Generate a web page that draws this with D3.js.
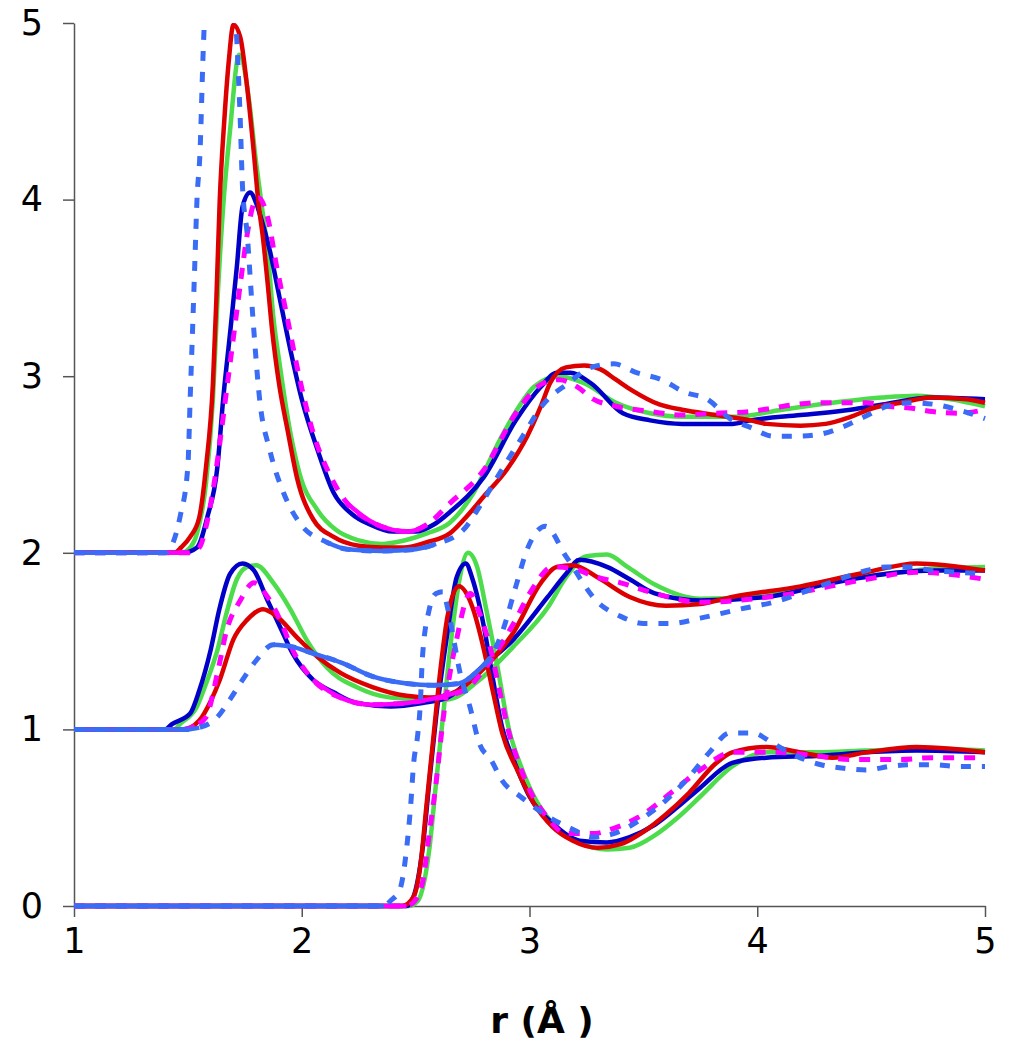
<!DOCTYPE html>
<html>
<head>
<meta charset="utf-8">
<title>g(r)</title>
<style>
  body { margin: 0; background: #fff; }
  svg { display: block; }
</style>
</head>
<body>
<svg width="1011" height="1050"></svg>
<script src="https://d3js.org/d3.v7.min.js"></script>
<script>

// [r, value] pairs, offsets (2 / 1 / 0) already in
const topRed = [[1.00,2.00],[1.44,2.00],[1.47,2.03],[1.51,2.09],[1.55,2.20],[1.58,2.49],[1.61,2.96],[1.625,3.43],[1.64,4.00],[1.66,4.45],[1.68,4.79],[1.70,4.99],[1.73,4.92],[1.76,4.64],[1.79,4.26],[1.81,3.98],[1.83,3.78],[1.85,3.53],[1.87,3.26],[1.90,2.96],[1.94,2.68],[1.98,2.42],[2.05,2.19],[2.14,2.09],[2.25,2.04],[2.35,2.03],[2.45,2.03],[2.55,2.06],[2.65,2.11],[2.72,2.20],[2.80,2.32],[2.90,2.47],[2.99,2.66],[3.05,2.83],[3.09,2.96],[3.16,3.05],[3.24,3.06],[3.31,3.04],[3.38,2.98],[3.45,2.92],[3.57,2.84],[3.67,2.81],[3.82,2.78],[3.97,2.75],[4.04,2.73],[4.19,2.72],[4.30,2.73],[4.41,2.77],[4.51,2.82],[4.63,2.85],[4.77,2.88],[4.92,2.87],[5.00,2.85]];
const topGreen = [[1.00,2.00],[1.47,2.00],[1.51,2.03],[1.54,2.11],[1.58,2.40],[1.61,2.87],[1.63,3.43],[1.655,3.96],[1.685,4.39],[1.725,4.82],[1.77,4.55],[1.795,4.26],[1.825,3.96],[1.85,3.71],[1.875,3.34],[1.905,3.05],[1.95,2.68],[1.99,2.45],[2.07,2.24],[2.15,2.13],[2.25,2.07],[2.35,2.05],[2.45,2.07],[2.55,2.11],[2.65,2.17],[2.75,2.33],[2.87,2.64],[2.95,2.82],[3.02,2.94],[3.13,3.00],[3.24,2.96],[3.38,2.85],[3.53,2.79],[3.67,2.77],[3.89,2.77],[4.11,2.81],[4.33,2.85],[4.55,2.88],[4.70,2.89],[4.85,2.87],[5.00,2.83]];
const topBlue = [[1.00,2.00],[1.48,2.00],[1.54,2.03],[1.585,2.20],[1.63,2.49],[1.655,2.87],[1.685,3.24],[1.715,3.62],[1.74,3.96],[1.773,4.04],[1.80,3.98],[1.82,3.90],[1.86,3.71],[1.905,3.43],[1.95,3.15],[2.00,2.87],[2.07,2.58],[2.14,2.34],[2.22,2.22],[2.30,2.16],[2.40,2.12],[2.50,2.12],[2.58,2.16],[2.65,2.23],[2.80,2.43],[2.94,2.75],[3.05,2.94],[3.12,3.02],[3.18,3.02],[3.27,2.96],[3.41,2.79],[3.53,2.75],[3.67,2.73],[3.89,2.73],[3.97,2.75],[4.19,2.78],[4.41,2.81],[4.55,2.84],[4.77,2.88],[5.00,2.87]];
const topMagenta = [[1.00,2.00],[1.50,2.00],[1.55,2.03],[1.58,2.15],[1.61,2.35],[1.64,2.62],[1.67,2.92],[1.70,3.22],[1.73,3.52],[1.76,3.80],[1.79,3.98],[1.81,4.01],[1.85,3.90],[1.89,3.62],[1.935,3.34],[1.98,3.05],[2.05,2.68],[2.12,2.45],[2.20,2.28],[2.30,2.18],[2.40,2.13],[2.47,2.12],[2.55,2.16],[2.65,2.28],[2.80,2.47],[2.94,2.79],[3.06,2.96],[3.13,2.98],[3.21,2.94],[3.28,2.87],[3.38,2.83],[3.53,2.80],[3.67,2.78],[3.82,2.79],[3.97,2.80],[4.07,2.82],[4.17,2.84],[4.28,2.85],[4.48,2.85],[4.57,2.83],[4.67,2.82],[4.77,2.80],[4.88,2.79],[5.00,2.81]];
const topLight = [[1.00,2.00],[1.40,2.00],[1.42,2.02],[1.465,2.20],[1.50,2.49],[1.51,2.87],[1.52,3.24],[1.53,3.62],[1.54,4.00],[1.553,4.26],[1.567,4.83],[1.60,5.60],[1.64,5.80],[1.68,5.60],[1.715,4.90],[1.73,4.45],[1.74,4.07],[1.76,3.81],[1.785,3.34],[1.815,2.87],[1.86,2.58],[1.92,2.34],[1.99,2.17],[2.11,2.06],[2.20,2.02],[2.35,2.01],[2.50,2.02],[2.59,2.05],[2.71,2.13],[2.78,2.26],[2.85,2.41],[2.97,2.66],[3.06,2.84],[3.17,2.96],[3.27,3.05],[3.37,3.07],[3.47,3.02],[3.58,2.98],[3.68,2.91],[3.78,2.87],[3.88,2.76],[3.97,2.71],[4.07,2.66],[4.17,2.66],[4.27,2.67],[4.37,2.71],[4.47,2.77],[4.57,2.83],[4.67,2.85],[4.78,2.84],[4.88,2.81],[5.00,2.76]];

const midRed = [[1.00,1.00],[1.48,1.00],[1.55,1.05],[1.60,1.16],[1.64,1.28],[1.70,1.51],[1.76,1.62],[1.83,1.68],[1.89,1.64],[1.98,1.52],[2.07,1.41],[2.17,1.32],[2.31,1.24],[2.46,1.19],[2.56,1.18],[2.65,1.20],[2.71,1.24],[2.78,1.32],[2.93,1.55],[3.05,1.83],[3.12,1.92],[3.19,1.93],[3.30,1.86],[3.44,1.75],[3.60,1.70],[3.75,1.71],[3.89,1.75],[4.19,1.81],[4.48,1.89],[4.70,1.94],[5.00,1.90]];
const midGreen = [[1.00,1.00],[1.44,1.00],[1.465,1.03],[1.54,1.13],[1.58,1.26],[1.63,1.45],[1.67,1.66],[1.715,1.85],[1.76,1.92],[1.80,1.93],[1.875,1.83],[1.95,1.68],[2.02,1.51],[2.11,1.35],[2.24,1.24],[2.39,1.18],[2.53,1.17],[2.64,1.17],[2.78,1.28],[2.93,1.47],[3.08,1.69],[3.16,1.86],[3.25,1.98],[3.34,1.99],[3.43,1.92],[3.55,1.82],[3.75,1.74],[4.04,1.76],[4.33,1.84],[4.63,1.89],[4.77,1.91],[5.00,1.92]];
const midBlue = [[1.00,1.00],[1.40,1.00],[1.43,1.03],[1.51,1.09],[1.55,1.22],[1.60,1.45],[1.64,1.69],[1.685,1.88],[1.74,1.94],[1.79,1.90],[1.85,1.73],[1.905,1.58],[1.96,1.43],[2.05,1.28],[2.14,1.21],[2.24,1.15],[2.39,1.13],[2.53,1.15],[2.64,1.18],[2.78,1.34],[2.93,1.51],[3.08,1.75],[3.16,1.88],[3.22,1.96],[3.34,1.92],[3.44,1.85],[3.55,1.77],[3.75,1.73],[4.04,1.75],[4.33,1.83],[4.63,1.89],[4.77,1.90],[5.00,1.90]];
const midMagenta = [[1.00,1.00],[1.48,1.00],[1.53,1.02],[1.58,1.07],[1.63,1.32],[1.67,1.56],[1.73,1.73],[1.79,1.83],[1.85,1.75],[1.905,1.62],[1.96,1.45],[2.05,1.28],[2.17,1.18],[2.31,1.14],[2.46,1.15],[2.56,1.17],[2.71,1.22],[2.83,1.39],[2.93,1.60],[3.01,1.79],[3.10,1.92],[3.19,1.91],[3.30,1.86],[3.40,1.83],[3.55,1.77],[3.75,1.72],[4.11,1.76],[4.48,1.85],[4.70,1.89],[5.00,1.85]];
const midLight = [[1.00,1.00],[1.50,1.00],[1.55,1.01],[1.63,1.07],[1.685,1.17],[1.74,1.28],[1.80,1.39],[1.875,1.48],[1.95,1.47],[2.05,1.43],[2.17,1.38],[2.31,1.30],[2.46,1.26],[2.58,1.25],[2.69,1.26],[2.78,1.34],[2.83,1.41],[2.88,1.55],[2.94,1.81],[2.99,2.02],[3.07,2.15],[3.16,1.98],[3.30,1.72],[3.40,1.64],[3.50,1.60],[3.62,1.60],[3.75,1.63],[3.92,1.68],[4.10,1.73],[4.23,1.79],[4.36,1.85],[4.48,1.90],[4.57,1.92],[4.67,1.92],[4.77,1.90],[4.88,1.89],[5.00,1.88]];

const botRed = [[1.00,0.00],[2.44,0.00],[2.49,0.05],[2.52,0.22],[2.55,0.60],[2.58,0.98],[2.61,1.35],[2.64,1.64],[2.69,1.81],[2.75,1.69],[2.80,1.45],[2.84,1.21],[2.88,0.98],[2.95,0.76],[3.02,0.58],[3.10,0.45],[3.19,0.37],[3.30,0.33],[3.40,0.35],[3.50,0.42],[3.60,0.52],[3.70,0.64],[3.82,0.81],[3.89,0.87],[4.04,0.90],[4.19,0.87],[4.33,0.84],[4.48,0.87],[4.70,0.90],[4.85,0.89],[5.00,0.87]];
const botGreen = [[1.00,0.00],[2.47,0.00],[2.51,0.03],[2.56,0.32],[2.59,0.70],[2.62,1.07],[2.66,1.55],[2.69,1.83],[2.73,2.00],[2.77,1.92],[2.81,1.68],[2.86,1.35],[2.91,1.00],[2.96,0.80],[3.02,0.62],[3.10,0.47],[3.22,0.36],[3.34,0.32],[3.44,0.33],[3.55,0.40],[3.65,0.50],[3.75,0.62],[3.89,0.79],[4.04,0.87],[4.26,0.87],[4.48,0.88],[4.77,0.89],[5.00,0.88]];
const botBlue = [[1.00,0.00],[2.46,0.00],[2.49,0.05],[2.53,0.32],[2.56,0.70],[2.59,1.07],[2.64,1.55],[2.68,1.86],[2.72,1.94],[2.75,1.85],[2.80,1.58],[2.84,1.28],[2.88,1.01],[2.93,0.83],[3.00,0.62],[3.10,0.47],[3.22,0.37],[3.34,0.36],[3.44,0.39],[3.55,0.46],[3.65,0.56],[3.75,0.67],[3.89,0.81],[4.04,0.84],[4.26,0.85],[4.48,0.87],[4.70,0.88],[5.00,0.87]];
const botMagenta = [[1.00,0.00],[2.46,0.00],[2.49,0.02],[2.53,0.13],[2.56,0.41],[2.59,0.70],[2.62,1.05],[2.68,1.51],[2.74,1.77],[2.78,1.66],[2.83,1.45],[2.87,1.21],[2.91,0.98],[2.95,0.82],[3.00,0.66],[3.08,0.50],[3.16,0.41],[3.28,0.41],[3.37,0.44],[3.50,0.52],[3.62,0.64],[3.75,0.77],[3.89,0.87],[4.09,0.87],[4.26,0.85],[4.41,0.83],[4.63,0.83],[4.77,0.84],[5.00,0.84]];
const botLight = [[1.00,0.00],[2.36,0.00],[2.39,0.03],[2.43,0.09],[2.46,0.32],[2.48,0.60],[2.49,0.79],[2.51,0.98],[2.52,1.13],[2.53,1.41],[2.56,1.68],[2.59,1.77],[2.62,1.78],[2.64,1.69],[2.67,1.49],[2.69,1.35],[2.74,1.12],[2.78,0.92],[2.83,0.83],[2.88,0.71],[2.96,0.62],[3.00,0.58],[3.09,0.50],[3.18,0.44],[3.28,0.39],[3.37,0.41],[3.50,0.50],[3.60,0.60],[3.70,0.73],[3.79,0.87],[3.88,0.98],[3.98,0.98],[4.07,0.92],[4.17,0.85],[4.28,0.80],[4.38,0.78],[4.48,0.77],[4.58,0.79],[4.68,0.80],[4.77,0.80],[4.88,0.79],[5.00,0.79]];

const xTicks = [1, 2, 3, 4, 5];
const yTicks = [0, 1, 2, 3, 4, 5];
const xTitle = "r (Å )";

// styles
const red = "#dd0000", green = "#4cdc4c", blue = "#0000c8", magenta = "#ff00ff", light = "#3a6cf6";

// Excel draws these dashed lines solid where the points are dense; mimic that on these r ranges
const series = [
  {data: topGreen, color: green}, {data: midGreen, color: green}, {data: botGreen, color: green},
  {data: topBlue, color: blue}, {data: midBlue, color: blue}, {data: botBlue, color: blue},
  {data: topRed, color: red}, {data: midRed, color: red}, {data: botRed, color: red},
  {data: topMagenta, color: magenta, dash: "11 10", solid: [[1, 1.52], [2.2, 2.6]]},
  {data: midMagenta, color: magenta, dash: "11 10", solid: [[1, 1.53], [2.0, 2.72]]},
  {data: botMagenta, color: magenta, dash: "11 10", solid: [[1, 2.47]]},
  {data: topLight, color: light, dash: "10 11", solid: [[1, 1.41], [2.1, 2.6]]},
  {data: midLight, color: light, dash: "10 11", solid: [[1, 1.56], [1.86, 2.84]]},
  {data: botLight, color: light, dash: "10 11", solid: [[1, 2.38]]}
];

const svg = d3.select("svg");
const x = d3.scaleLinear().domain([1, 5]).range([74, 985]);
const y = d3.scaleLinear().domain([0, 5]).range([906, 23]);

svg.append("clipPath").attr("id", "plot")
  .append("rect").attr("x", 70).attr("y", y(5)).attr("width", 920).attr("height", y(0) - y(5) + 4);

// axes
svg.append("g")
    .attr("transform", `translate(${x(1)},0)`)
    .call(d3.axisLeft(y).tickValues(yTicks).tickFormat(d3.format("d")).tickSize(11).tickSizeOuter(0).tickPadding(20));
svg.append("g")
    .attr("transform", `translate(0,${y(0)})`)
    .call(d3.axisBottom(x).tickValues(xTicks).tickFormat(d3.format("d")).tickSize(11).tickSizeOuter(0).tickPadding(11));

svg.selectAll(".domain, .tick line").attr("stroke", "#555").attr("stroke-width", 1.5);
svg.selectAll(".tick text")
    .attr("font-family", "'DejaVu Sans', Verdana, sans-serif")
    .attr("font-size", 35)
    .attr("fill", "#000");

svg.append("text")
    .attr("x", 542)
    .attr("y", 1033)
    .attr("text-anchor", "middle")
    .attr("font-family", "'DejaVu Sans', Verdana, sans-serif")
    .attr("font-weight", "bold")
    .attr("font-size", 36)
    .text(xTitle);

const line = d3.line()
    .x(d => x(d[0]))
    .y(d => y(d[1]))
    .curve(d3.curveMonotoneX);

const plot = svg.append("g").attr("clip-path", "url(#plot)").attr("fill", "none");

series.forEach(s => {
  plot.append("path")
      .attr("d", line(s.data))
      .attr("stroke", s.color)
      .attr("stroke-width", s.dash ? 5 : 4.5)
      .attr("stroke-dasharray", s.dash || null)
      .attr("stroke-linejoin", "round");
  (s.solid || []).forEach(([a, b]) => {
    const part = s.data.filter(d => d[0] >= a && d[0] <= b);
    plot.append("path")
        .attr("d", line(part))
        .attr("stroke", s.color)
        .attr("stroke-width", 4.5)
        .attr("stroke-linejoin", "round");
  });
});

</script>
</body>
</html>
